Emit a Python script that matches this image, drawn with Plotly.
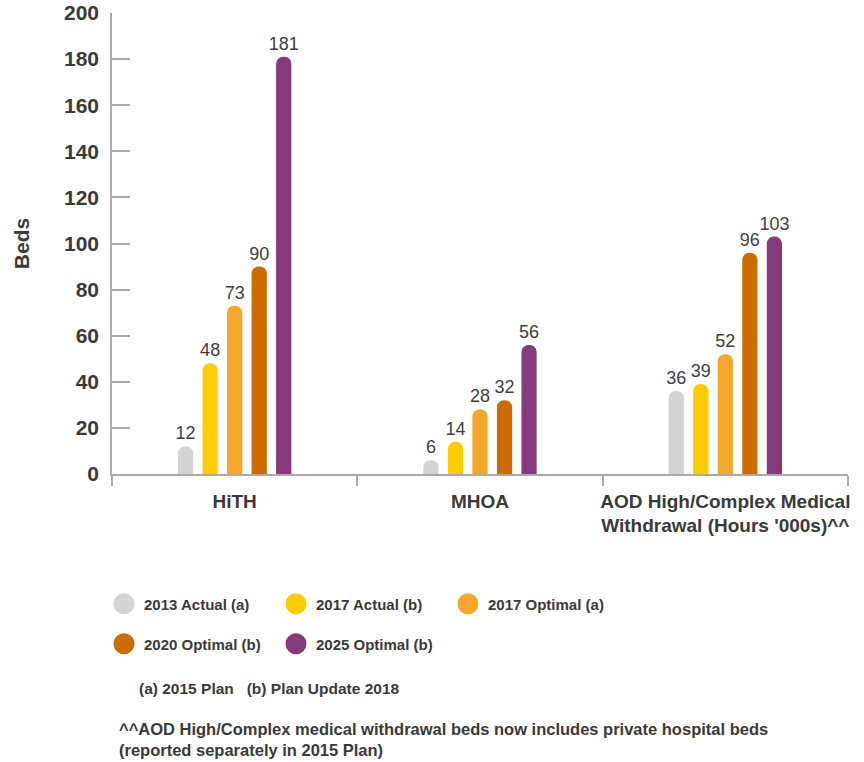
import plotly.graph_objects as go

categories = ["HiTH", "MHOA", "AOD High/Complex Medical<br>Withdrawal (Hours '000s)^^"]
series_names = ["2013 Actual (a)", "2017 Actual (b)", "2017 Optimal (a)", "2020 Optimal (b)", "2025 Optimal (b)"]
actual_2013 = [12, 6, 36]
actual_2017 = [48, 14, 39]
optimal_2017 = [73, 28, 52]
optimal_2020 = [90, 32, 96]
optimal_2025 = [181, 56, 103]
series_values = [actual_2013, actual_2017, optimal_2017, optimal_2020, optimal_2025]
colors = ["#D3D3D3", "#FFCC00", "#F5A72B", "#CC6C00", "#843A7B"]
y_ticks = [0, 20, 40, 60, 80, 100, 120, 140, 160, 180, 200]

W, H = 864, 762
ML, MR, MT, MB = 112, 864 - 848, 13, 762 - 474
PW, PH = W - ML - MR, H - MT - MB

def px_x(x):
    return (x - ML) / PW

def px_y(y):
    return (H - MB - y) / PH

FONT = "Arial, Liberation Sans, sans-serif"
TXT = "#3a3a3a"

fig = go.Figure()
for name, vals, col in zip(series_names, series_values, colors):
    fig.add_trace(go.Bar(
        x=categories, y=vals, name=name, marker=dict(color=col, cornerradius=8, line=dict(width=0)),
        texttemplate="%{y}", textposition="outside", cliponaxis=False, constraintext="none",
        textfont=dict(family=FONT, size=18, color="#404040"), showlegend=False,
    ))

# legend entries (circle symbols)
for i, (name, col) in enumerate(zip(series_names, colors)):
    fig.add_trace(go.Scatter(
        x=[None], y=[None], mode="markers", name=name,
        marker=dict(color=col, size=16, symbol="circle", line=dict(color=col, width=5)),
        legend="legend" if i < 3 else "legend2", showlegend=True,
    ))

legend_common = dict(
    orientation="h", xref="container", yref="container", xanchor="left", yanchor="middle",
    font=dict(family=FONT, size=15, color=TXT, weight="bold"), entrywidth=127, entrywidthmode="pixels",
    itemsizing="trace", bgcolor="rgba(0,0,0,0)", traceorder="normal",
)

fig.update_layout(
    width=W, height=H,
    margin=dict(l=ML, r=MR, t=MT, b=MB, autoexpand=False),
    paper_bgcolor="white", plot_bgcolor="white",
    barmode="group", bargap=0.5, bargroupgap=0.38,
    font=dict(family=FONT, color=TXT),
    legend=dict(x=104 / W, y=1 - 604 / H, **legend_common),
    legend2=dict(x=104 / W, y=1 - 644 / H, **legend_common),
    xaxis=dict(
        type="category", showline=True, linecolor="#AAAAAA", linewidth=1.5, automargin=False,
        ticks="outside", tickson="boundaries", ticklen=10, tickcolor="#AAAAAA", tickwidth=1.5,
        ticklabelstandoff=9, tickangle=0,
        tickfont=dict(family=FONT, size=19, color=TXT, weight="bold"), showgrid=False,
    ),
    yaxis=dict(
        range=[0, 200], tickvals=y_ticks, showline=True, linecolor="#AAAAAA", linewidth=1.5,
        automargin=False, ticklabeloverflow="allow",
        ticks="inside", ticklen=18, tickcolor="#AAAAAA", tickwidth=1.5, ticklabelstandoff=7,
        tickfont=dict(family=FONT, size=21, color=TXT, weight="bold"), showgrid=False, zeroline=False,
        title=dict(text="Beds", font=dict(family=FONT, size=21, color=TXT, weight="bold"), standoff=29),
    ),
)

notes = [
    ("(a) 2015 Plan   (b) Plan Update 2018", 137, 688, 15.5),
    ("^^AOD High/Complex medical withdrawal beds now includes private hospital beds<br>(reported separately in 2015 Plan)", 117, 739, 16.5),
]
for text, x, y, fs in notes:
    fig.add_annotation(
        text=text, x=px_x(x), y=px_y(y), xref="paper", yref="paper", xanchor="left", yanchor="middle",
        showarrow=False, align="left", font=dict(family=FONT, size=fs, color=TXT, weight="bold"),
    )

fig.write_html(
    "out.html",
    config={"displayModeBar": False},
    post_script="document.body.style.margin='0';document.body.style.overflow='hidden';",
)
